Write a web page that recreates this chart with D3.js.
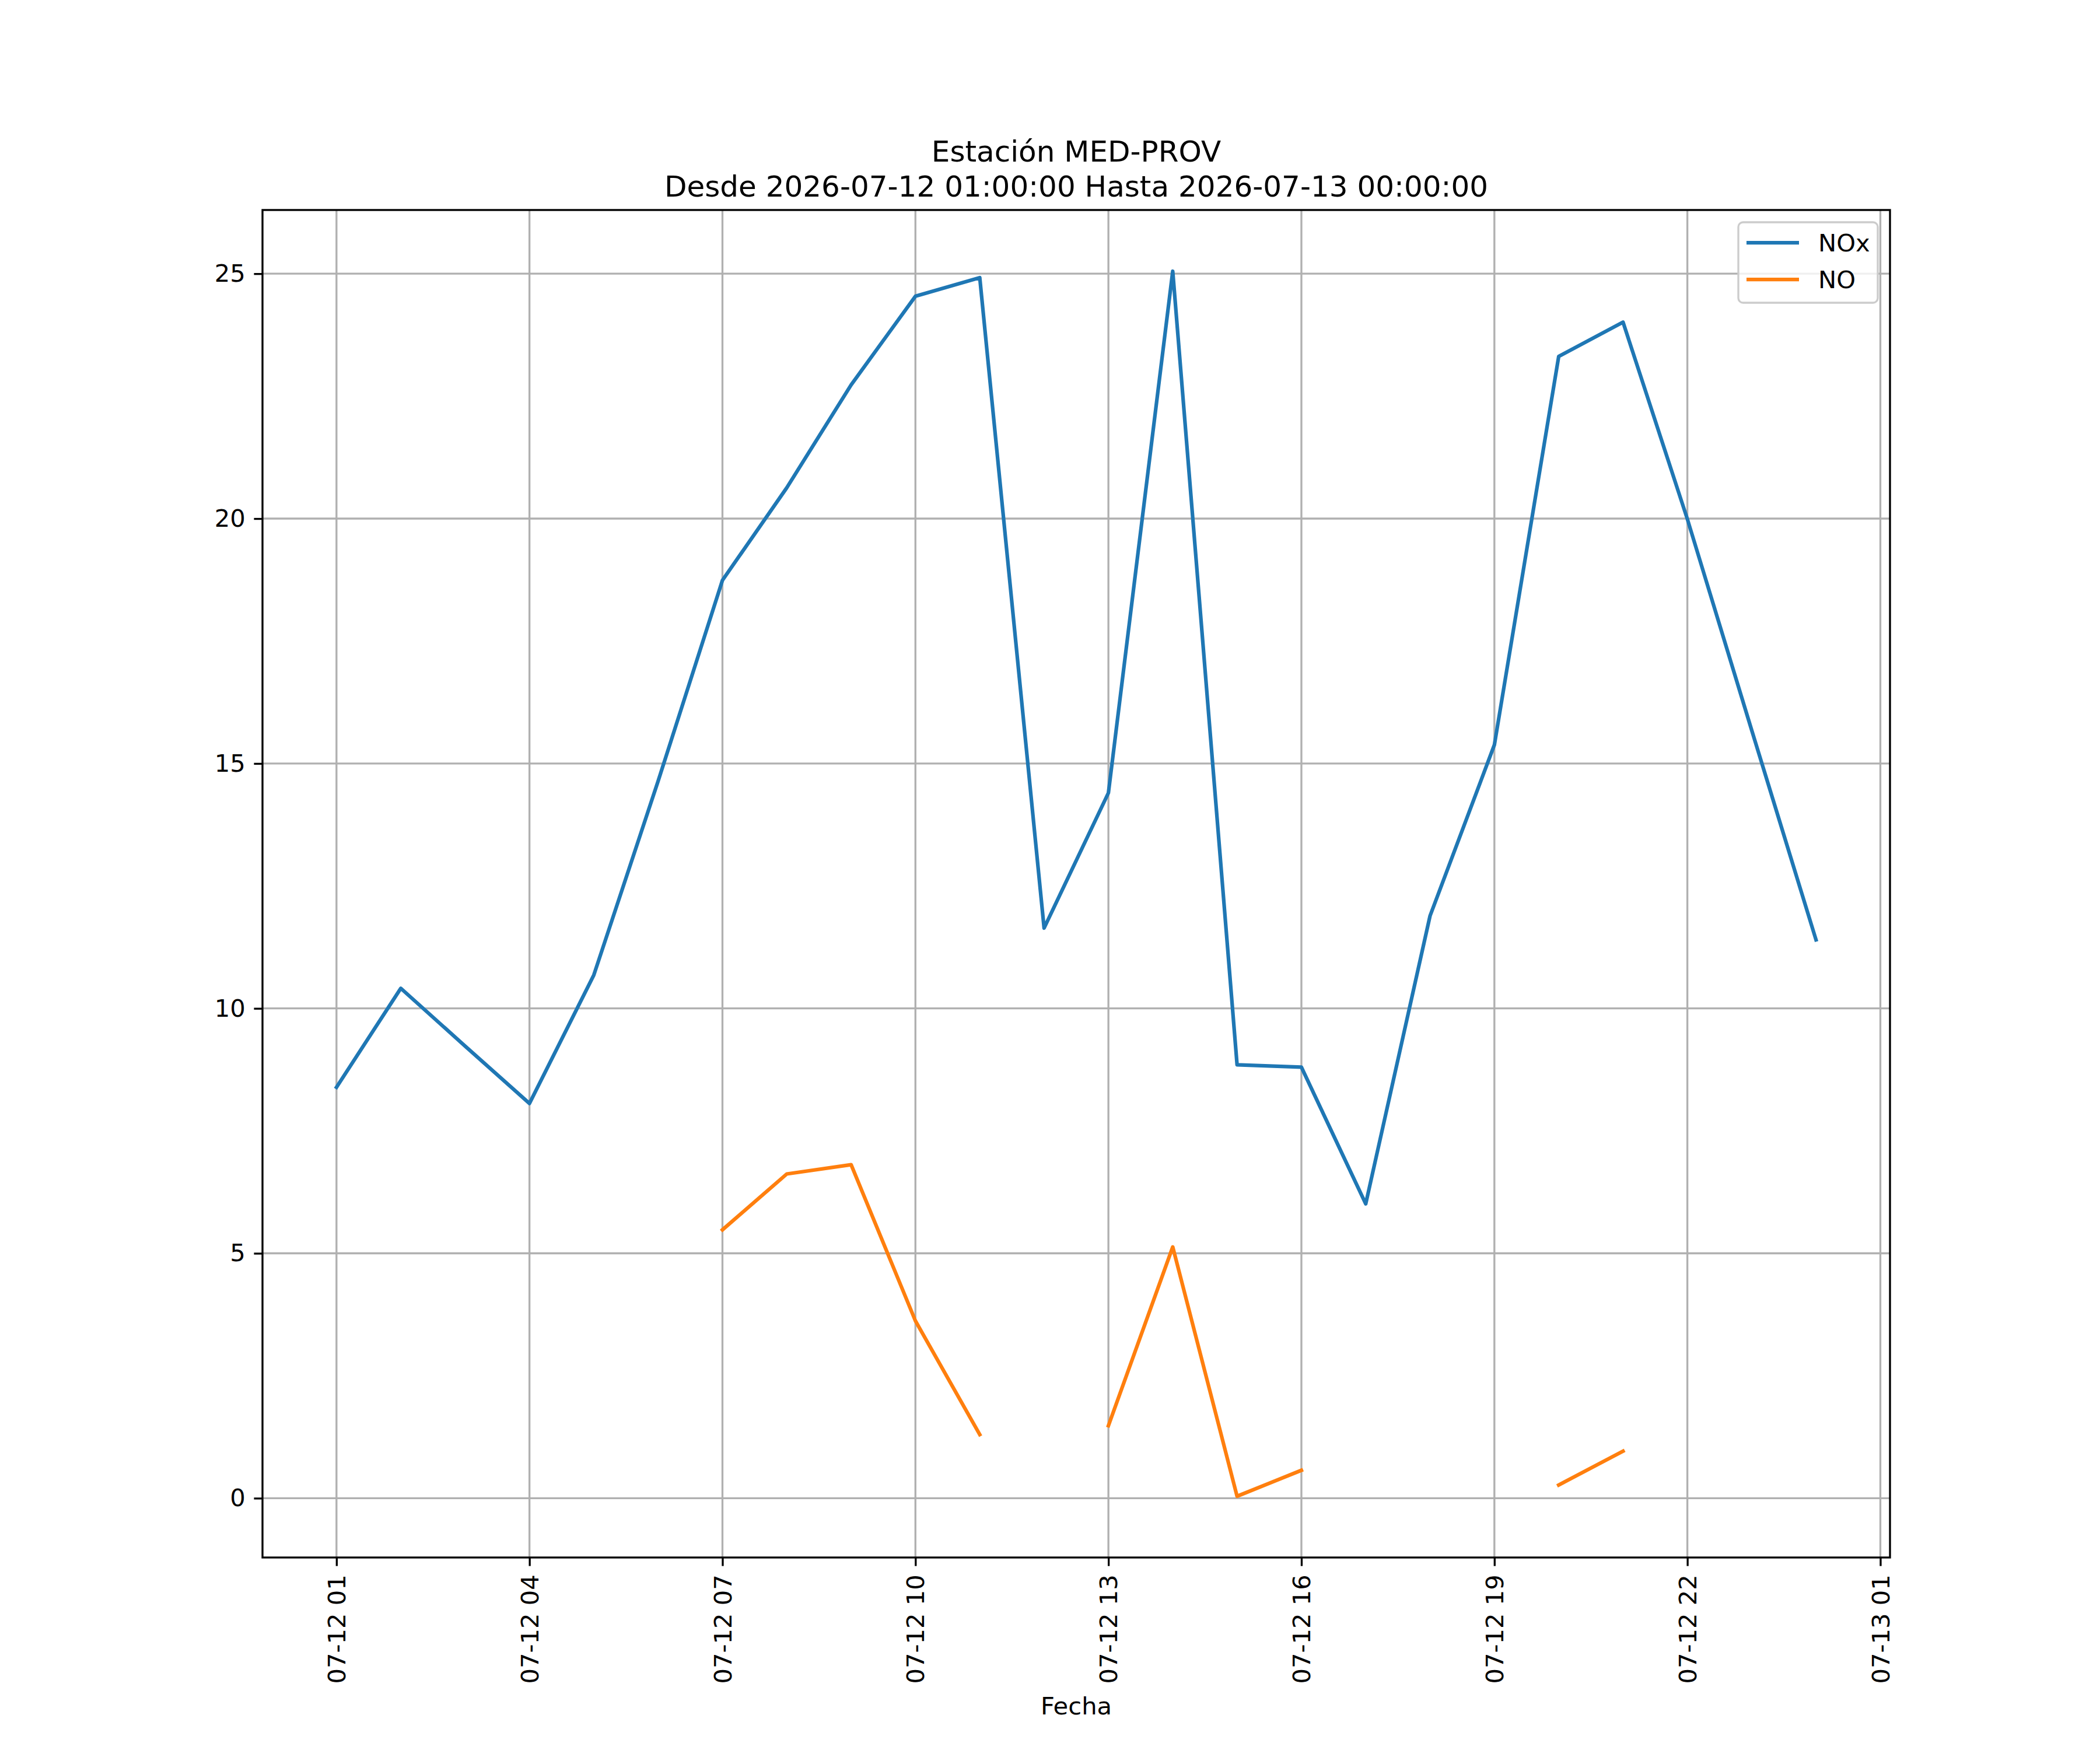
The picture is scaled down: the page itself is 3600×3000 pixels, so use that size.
<!DOCTYPE html>
<html>
<head>
<meta charset="utf-8">
<script src="https://cdn.jsdelivr.net/npm/d3@7"></script>
<style>
  body { margin: 0; background: #fff; }
  text { font-family: "DejaVu Sans", sans-serif; }
</style>
</head>
<body>
<div id="chart"></div>
<script>
// hourly readings, 2026-07-12 01:00 .. 2026-07-13 00:00
const hours = ['2026-07-12 01:00', '2026-07-12 02:00', '2026-07-12 03:00', '2026-07-12 04:00',
  '2026-07-12 05:00', '2026-07-12 06:00', '2026-07-12 07:00', '2026-07-12 08:00',
  '2026-07-12 09:00', '2026-07-12 10:00', '2026-07-12 11:00', '2026-07-12 12:00',
  '2026-07-12 13:00', '2026-07-12 14:00', '2026-07-12 15:00', '2026-07-12 16:00',
  '2026-07-12 17:00', '2026-07-12 18:00', '2026-07-12 19:00', '2026-07-12 20:00',
  '2026-07-12 21:00', '2026-07-12 22:00', '2026-07-12 23:00', '2026-07-13 00:00'];

const nox = [8.39, 10.41, 9.23, 8.06, 10.68, 14.64, 18.74, 20.63, 22.73, 24.54, 24.92, 11.64,
  14.40, 25.05, 8.85, 8.80, 6.01, 11.89, 15.38, 23.31, 24.01, 19.99, 15.68, 11.40];

const no = [null, null, null, null, null, null, 5.48, 6.62, 6.81, 3.62, 1.30, null,
  1.48, 5.13, 0.04, 0.57, null, null, null, 0.27, 0.96, null, null, null];

const seriesNames = ['NOx', 'NO'];
const seriesColors = ['#1f77b4', '#ff7f0e'];

const xTicks = ['2026-07-12 01:00', '2026-07-12 04:00', '2026-07-12 07:00', '2026-07-12 10:00',
  '2026-07-12 13:00', '2026-07-12 16:00', '2026-07-12 19:00', '2026-07-12 22:00',
  '2026-07-13 01:00'];
const yTicks = [0, 5, 10, 15, 20, 25];

const titleLines = ['Estación MED-PROV', 'Desde 2026-07-12 01:00:00 Hasta 2026-07-13 00:00:00'];
const xLabel = 'Fecha';

const W = 3600, H = 3000;
const margin = { left: 450, right: 360, top: 360, bottom: 330 };
const fs = 41.67;          // 10pt at 300 dpi
const tickLen = 14.6, tickPad = 14.6;

const parse = d3.timeParse('%Y-%m-%d %H:%M');
const dates = hours.map(parse);

const svg = d3.select('#chart').append('svg')
  .attr('width', W)
  .attr('height', H);

// 5% margins on both axes, like matplotlib
const xExt = d3.extent(dates);
const xPad = (xExt[1] - xExt[0]) * 0.05;
const x = d3.scaleTime()
  .domain([new Date(+xExt[0] - xPad), new Date(+xExt[1] + xPad)])
  .range([margin.left, W - margin.right]);

const allVals = nox.concat(no).filter(v => v != null);
const yExt = d3.extent(allVals);
const yPad = (yExt[1] - yExt[0]) * 0.05;
const y = d3.scaleLinear()
  .domain([yExt[0] - yPad, yExt[1] + yPad])
  .range([H - margin.bottom, margin.top]);

const plotLeft = margin.left, plotRight = W - margin.right;
const plotTop = margin.top, plotBottom = H - margin.bottom;

// grid
const grid = svg.append('g');
grid.selectAll('.vg')
  .data(xTicks.map(parse))
  .enter()
  .append('line')
  .attr('x1', d => x(d)).attr('x2', d => x(d))
  .attr('y1', plotTop).attr('y2', plotBottom)
  .attr('stroke', '#b0b0b0')
  .attr('stroke-width', 3.33);
grid.selectAll('.hg')
  .data(yTicks)
  .enter()
  .append('line')
  .attr('x1', plotLeft).attr('x2', plotRight)
  .attr('y1', d => y(d)).attr('y2', d => y(d))
  .attr('stroke', '#b0b0b0')
  .attr('stroke-width', 3.33);

// lines
const series = [nox, no];
series.forEach(function(vals, i) {
  const line = d3.line()
    .defined(d => d.v != null)
    .x(d => x(d.t))
    .y(d => y(d.v));
  svg.append('path')
    .datum(vals.map((v, j) => ({ t: dates[j], v: v })))
    .attr('d', line)
    .attr('fill', 'none')
    .attr('stroke', seriesColors[i])
    .attr('stroke-width', 6.25)
    .attr('stroke-linecap', 'square')
    .attr('stroke-linejoin', 'round');
});

// axes
const fmt = d3.timeFormat('%m-%d %H');
const xAxis = d3.axisBottom(x)
  .tickValues(xTicks.map(parse))
  .tickFormat(fmt)
  .tickSize(tickLen)
  .tickPadding(tickPad);
const gx = svg.append('g')
  .attr('transform', `translate(0,${plotBottom})`)
  .call(xAxis);
gx.select('.domain').remove();
gx.selectAll('.tick line').attr('stroke', '#000').attr('stroke-width', 3.33);
gx.selectAll('.tick text')
  .attr('font-size', fs)
  .attr('fill', '#000')
  .attr('transform', 'rotate(-90)')
  .attr('x', -(tickLen + tickPad))
  .attr('y', 0)
  .attr('dy', '0.35em')
  .attr('text-anchor', 'end')
  .style('font-family', '"DejaVu Sans", sans-serif');

const yAxis = d3.axisLeft(y)
  .tickValues(yTicks)
  .tickFormat(d3.format('d'))
  .tickSize(tickLen)
  .tickPadding(tickPad);
const gy = svg.append('g')
  .attr('transform', `translate(${plotLeft},0)`)
  .call(yAxis);
gy.select('.domain').remove();
gy.selectAll('.tick line').attr('stroke', '#000').attr('stroke-width', 3.33);
gy.selectAll('.tick text')
  .attr('font-size', fs)
  .attr('fill', '#000')
  .style('font-family', '"DejaVu Sans", sans-serif');

// frame
svg.append('rect')
  .attr('x', plotLeft).attr('y', plotTop)
  .attr('width', plotRight - plotLeft)
  .attr('height', plotBottom - plotTop)
  .attr('fill', 'none')
  .attr('stroke', '#000')
  .attr('stroke-width', 3.33);

// title
const cx = (plotLeft + plotRight) / 2;
svg.append('text')
  .attr('x', cx).attr('y', plotTop - 25 - 60 + 2)
  .attr('text-anchor', 'middle')
  .attr('font-size', 50)
  .text(titleLines[0]);
svg.append('text')
  .attr('x', cx).attr('y', plotTop - 25 + 2)
  .attr('text-anchor', 'middle')
  .attr('font-size', 50)
  .text(titleLines[1]);

// x label
svg.append('text')
  .attr('x', cx).attr('y', 2939)
  .attr('text-anchor', 'middle')
  .attr('font-size', fs)
  .text(xLabel);

// legend
const lg = svg.append('g');
lg.append('rect')
  .attr('x', 2980).attr('y', 381)
  .attr('width', 239).attr('height', 138)
  .attr('rx', 8)
  .attr('fill', 'rgba(255,255,255,0.8)')
  .attr('stroke', '#cccccc')
  .attr('stroke-width', 3.33);
seriesNames.forEach(function(name, i) {
  const ly = 416 + i * 63;
  lg.append('line')
    .attr('x1', 2994).attr('x2', 3084)
    .attr('y1', ly).attr('y2', ly)
    .attr('stroke', seriesColors[i])
    .attr('stroke-width', 6.25);
  lg.append('text')
    .attr('x', 3117).attr('y', ly)
    .attr('dy', '0.35em')
    .attr('font-size', fs)
    .text(name);
});
</script>
</body>
</html>
